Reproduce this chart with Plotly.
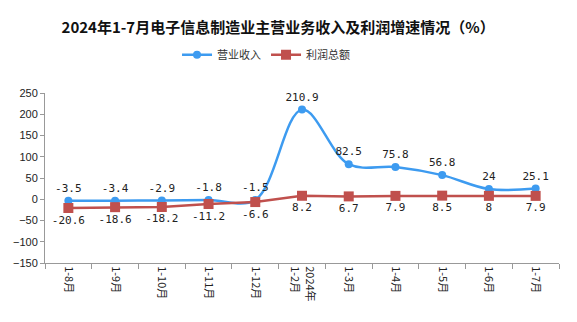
import plotly.graph_objects as go

categories = ["1-8月", "1-9月", "1-10月", "1-11月", "1-12月", "2024年<br>1-2月",
              "1-3月", "1-4月", "1-5月", "1-6月", "1-7月"]
revenue = [-3.5, -3.4, -2.9, -1.8, -1.5, 210.9, 82.5, 75.8, 56.8, 24, 25.1]
profit = [-20.6, -18.6, -18.2, -11.2, -6.6, 8.2, 6.7, 7.9, 8.5, 8, 7.9]
y_ticks = [250, 200, 150, 100, 50, 0, -50, -100, -150]

num_font = dict(family="DejaVu Sans Mono", size=11, color="#222")

fig = go.Figure()
fig.add_trace(go.Scatter(
    x=categories, y=revenue, name="营业收入",
    mode="lines+markers+text",
    line=dict(color="#3D9BF0", width=2.5, shape="spline", smoothing=1),
    marker=dict(symbol="circle", size=8, color="#3D9BF0"),
    text=[str(v) for v in revenue], textposition="top center",
    textfont=num_font,
))
fig.add_trace(go.Scatter(
    x=categories, y=profit, name="利润总额",
    mode="lines+markers+text",
    line=dict(color="#C0504D", width=2.5),
    marker=dict(symbol="square", size=10, color="#C0504D"),
    text=[str(v) for v in profit], textposition="bottom center",
    textfont=num_font,
))

fig.update_layout(
    width=577, height=322,
    margin=dict(l=45, r=18, t=93, b=59),
    paper_bgcolor="white", plot_bgcolor="white",
    font=dict(family="Noto Sans CJK SC", size=12, color="#222"),
    title=dict(text="<b>2024年1-7月电子信息制造业主营业务收入及利润增速情况（%）</b>",
               x=0.482, xanchor="center", y=0.915, yanchor="middle",
               font=dict(family="Noto Sans CJK SC", size=15, color="#111")),
    legend=dict(orientation="h", x=0.43, xanchor="center", y=1.225, yanchor="middle",
                font=dict(size=11, color="#333"), itemwidth=30, tracegroupgap=0),
    showlegend=True,
)
fig.update_xaxes(
    type="category", range=[-0.5, 10.5],
    showline=True, linecolor="#999", linewidth=1,
    ticks="outside", tickson="boundaries", ticklen=5, tickcolor="#999",
    tickangle=90, showgrid=False, zeroline=False,
    tickfont=dict(family="Noto Sans CJK SC", size=11, color="#222"),
)
fig.update_yaxes(
    range=[-150, 250], tickvals=y_ticks,
    showline=True, linecolor="#999", linewidth=1,
    ticks="outside", ticklen=4, tickcolor="#999",
    showgrid=False, zeroline=False,
    tickfont=dict(family="Liberation Sans", size=11, color="#222"),
)

fig.write_html("out.html")
